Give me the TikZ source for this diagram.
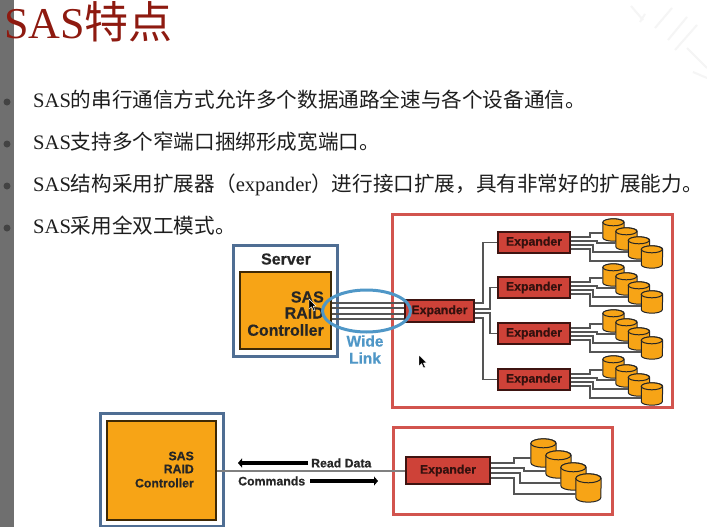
\documentclass[tikz,border=0pt]{standalone}
\usepackage{fontspec}
\setmainfont{Liberation Serif}
\setsansfont{Liberation Sans}[BoldFeatures={FakeBold=0.5}]
\newfontfamily\cjk{Noto Sans CJK SC}
\newcommand{\zh}[1]{{\cjk #1}}
\definecolor{strip}{HTML}{6F6F6F}
\definecolor{titlered}{HTML}{8E1A10}
\definecolor{bodyink}{HTML}{1E1E1E}
\definecolor{amber}{HTML}{F7A416}
\definecolor{slate}{HTML}{4F6E93}
\definecolor{brick}{HTML}{CE4238}
\definecolor{framered}{HTML}{D2544E}
\definecolor{skyblue}{HTML}{4F97C7}
\definecolor{wire}{HTML}{555555}
\usetikzlibrary{arrows.meta}
\tikzset{
  x=1pt,y=-1pt,
  bodytext/.style={anchor=base west,inner sep=0pt,text=bodyink,font=\fontsize{20.6}{20.6}\selectfont},
  bullet/.style={circle,fill=strip!60!black,inner sep=0pt,minimum size=7pt},
  serverframe/.style={draw=slate,line width=3pt,fill=white,rectangle},
  controller/.style={draw=black!75!amber,line width=1.4pt,fill=amber,rectangle},
  expandbox/.style={draw=black!70!brick,line width=1.3pt,fill=brick,rectangle,inner sep=0pt,
    font=\sffamily\bfseries\fontsize{12.3}{12.3}\selectfont,text=black!75!brick},
  redframe/.style={draw=framered,line width=3pt,rectangle},
  labeltext/.style={inner sep=0pt,text=black!85,font=\sffamily\bfseries\fontsize{16}{16}\selectfont},
  smalltext/.style={inner sep=0pt,text=black!85,font=\sffamily\bfseries\fontsize{12.3}{12.3}\selectfont},
  bluetext/.style={inner sep=0pt,text=skyblue,font=\sffamily\bfseries\fontsize{15.5}{15.5}\selectfont},
  wirepath/.style={draw=wire,line width=1.1pt},
  fatarrow/.style={draw=black,line width=4.2pt,-{Triangle[length=4pt,width=9pt]}},
  diskbody/.style={rectangle,inner sep=0pt,minimum width=#1},
  diskink/.style={draw=black!85,line width=1pt,fill=amber},
  pointer/.style={fill=black,draw=white,line width=.4pt},
  ghost/.style={draw=black!4,line width=2pt},
}
% A drum: named rectangle for the anchors, cylinder outline on top of it.
% #1 name, #2 centre x, #3 centre y, #4 width, #5 height, #6 rim radius
\newcommand{\drum}[6]{%
  \node[diskbody=#4,minimum height=#5] (#1) at (#2,#3) {};
  \path[diskink] ([yshift=-#6]#1.north west)
     -- ([yshift=#6]#1.south west)
     arc[start angle=180,end angle=360,x radius=#4/2,y radius=#6]
     -- ([yshift=-#6]#1.north east)
     arc[start angle=0,end angle=180,x radius=#4/2,y radius=#6] -- cycle;
  \draw[diskink] ([yshift=-#6,xshift=#4/2]#1.north west) ellipse [x radius=#4/2,y radius=#6];
}
% One expander with its four drums. #1 prefix, #2 vertical offset
\newcommand{\rack}[2]{%
  \node[expandbox,minimum width=72pt,minimum height=21pt] (#1x) at (534,{242.5+#2}) {Expander};
  \drum{#1a}{613.5}{230+#2}{21pt}{22pt}{3.5pt}
  \drum{#1b}{626.5}{239+#2}{21pt}{22pt}{3.5pt}
  \drum{#1c}{639}{248+#2}{21pt}{22pt}{3.5pt}
  \drum{#1d}{652}{257+#2}{21pt}{22pt}{3.5pt}
  \draw[wirepath] (#1x.east |- 0,237+#2) -- (590,237+#2) |- (#1a.west |- 0,233+#2);
  \draw[wirepath] (#1x.east |- 0,241+#2) -- (597,241+#2) |- (#1b.west |- 0,243+#2);
  \draw[wirepath] (#1x.east |- 0,245+#2) -- (593,245+#2) |- (#1c.west |- 0,252+#2);
  \draw[wirepath] (#1x.east |- 0,249+#2) -- (590,249+#2) |- (#1d.west |- 0,261+#2);
}
\begin{document}
\begin{tikzpicture}
\useasboundingbox (0,0) rectangle (707,527);
\fill[white] (0,0) rectangle (707,527);

% faint diagonal strokes in the top right corner
\draw[ghost] (631,6) -- (643,20);
\draw[ghost] (640,22) -- (645,14);
\draw[ghost] (655,28) -- (672,8);
\draw[ghost] (668,40) -- (687,17);
\draw[ghost] (675,50) -- (697,25);
\draw[ghost] (687,48) -- (707,68);
\draw[ghost] (693,72) -- (707,78);

% left strip and heading
\fill[strip] (0,0) rectangle (14,527);
\node[anchor=base west,inner sep=0pt,text=titlered,font=\fontsize{44}{44}\selectfont] (heading) at (4,38.5) {SAS\zh{特点}};

% bullet list
\node[bullet] (b1) at (7,102) {};
\node[bullet] (b2) at (7,144) {};
\node[bullet] (b3) at (7,186) {};
\node[bullet] (b4) at (7,228) {};
\node[bodytext] (t1) at (33,107) {SAS\zh{的串行通信方式允许多个数据通路全速与各个设备通信。}};
\node[bodytext] (t2) at (33,149) {SAS\zh{支持多个窄端口捆绑形成宽端口。}};
\node[bodytext] (t3) at (33,191) {SAS\zh{结构采用扩展器（}expander\zh{）进行接口扩展，具有非常好的扩展能力。}};
\node[bodytext] (t4) at (33,233) {SAS\zh{采用全双工模式。}};

% upper figure: server side
\node[serverframe,minimum width=104pt,minimum height=111pt] (server) at (285,300.5) {};
\node[labeltext] (servername) at (286,259) {Server};
\node[controller,minimum width=91pt,minimum height=77pt] (raid) at (285.5,310.5) {};
\node[labeltext,anchor=east] (raid1) at (324,297) {SAS};
\node[labeltext,anchor=east] (raid2) at (324,313) {RAID};
\node[labeltext,anchor=east] (raid3) at (324,330) {Controller};

% upper figure: expander tree
\node[redframe,minimum width=280pt,minimum height=193pt] (tree) at (532,310.5) {};
\node[expandbox,minimum width=69pt,minimum height=22pt] (root) at (439.5,311) {Expander};
\foreach \yy in {303,308,314,319}
  \draw[wirepath] (raid.east |- 0,\yy) -- (root.west |- 0,\yy);
\draw[skyblue,line width=3pt] (366.5,311) ellipse [x radius=44,y radius=21];
\node[bluetext] (wide) at (365,341) {Wide};
\node[bluetext] (link) at (365,358) {Link};
\rack{p}{0}
\rack{q}{45}
\rack{r}{91}
\rack{s}{137}
\draw[wirepath] (root.east |- 0,303) -- (483,303) |- (px.west);
\draw[wirepath] (root.east |- 0,309) -- (490,309) |- (qx.west);
\draw[wirepath] (root.east |- 0,313) -- (490,313) |- (rx.west);
\draw[wirepath] (root.east |- 0,318) -- (483,318) |- (sx.west);

% lower figure: controller
\node[serverframe,minimum width=123pt,minimum height=113pt] (host) at (161.5,469.5) {};
\node[controller,minimum width=109pt,minimum height=99pt] (hostraid) at (161.5,470.5) {};
\node[smalltext,anchor=east] (h1) at (194,456) {SAS};
\node[smalltext,anchor=east] (h2) at (194,469) {RAID};
\node[smalltext,anchor=east] (h3) at (194,483) {Controller};

% lower figure: expander and drums
\node[redframe,minimum width=219pt,minimum height=87pt] (shelf) at (502.5,470.5) {};
\node[expandbox,minimum width=84pt,minimum height=27pt] (lone) at (448,470.5) {Expander};
\draw[draw=black!50,line width=1.3pt] (hostraid.east |- 0,471) -- (lone.west |- 0,471);
\drum{u1}{543.5}{453}{25pt}{28pt}{4.5pt}
\drum{u2}{558.5}{464.5}{25pt}{27pt}{4.5pt}
\drum{u3}{573.5}{476.5}{25pt}{27pt}{4.5pt}
\drum{u4}{588.5}{488}{25pt}{28pt}{4.5pt}
\draw[wirepath] (lone.east |- 0,463) -- (514,463) |- (u1.west |- 0,458);
\draw[wirepath] (lone.east |- 0,468) -- (524,468) |- (u2.west |- 0,471);
\draw[wirepath] (lone.east |- 0,473) -- (520,473) |- (u3.west |- 0,483);
\draw[wirepath] (lone.east |- 0,478) -- (514,478) |- (u4.west |- 0,494);

% data direction labels
\node[smalltext,anchor=west] (readlabel) at (311,463) {Read Data};
\node[smalltext,anchor=west] (cmdlabel) at (238,481) {Commands};
\coordinate (readend) at (238,463);
\coordinate (cmdend) at (378,481);
\draw[fatarrow] (readlabel.west) ++(-3,0) -- (readend);
\draw[fatarrow] (cmdlabel.east) ++(5,0) -- (cmdend);

% mouse pointers
\path[pointer] (309,299) -- (309,309) -- (311.5,306.8) -- (313.5,311) -- (315,310.3) -- (313.2,306.2) -- (316,306) -- cycle;
\path[pointer] (419,355) -- (419,366) -- (421.6,363.6) -- (423.7,368) -- (425.3,367.2) -- (423.4,363) -- (426.5,362.7) -- cycle;
\end{tikzpicture}
\end{document}
